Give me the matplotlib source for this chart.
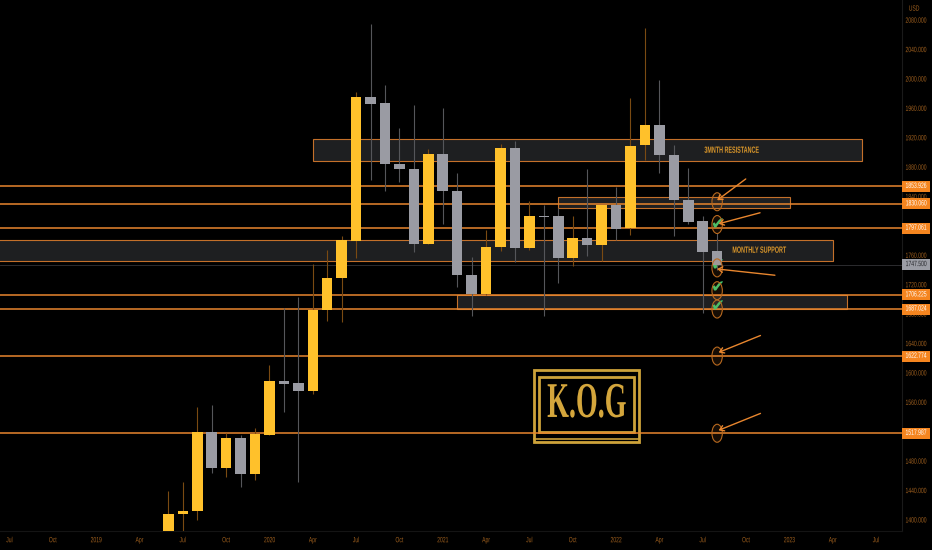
import matplotlib
matplotlib.use('Agg')
import matplotlib.pyplot as plt
from matplotlib.patches import Rectangle, Ellipse
from matplotlib.patheffects import AbstractPathEffect
from matplotlib.transforms import Affine2D

# monthly candles, month 0 = Jul 2018
months = list(range(11, 50))
opens = [1312, 1408, 1412, 1520, 1471, 1512, 1463, 1516, 1589, 1586, 1576, 1686, 1729, 1780, 1975, 1967,
         1885, 1878, 1776, 1898, 1847, 1733, 1707, 1771, 1906, 1770, 1813, 1813, 1757, 1783, 1774, 1829,
         1797, 1910, 1937, 1897, 1836, 1807, 1766]
closes = [1408, 1412, 1520, 1471, 1512, 1463, 1517, 1589, 1585, 1576, 1686, 1729, 1781, 1975, 1966, 1885,
          1878, 1776, 1898, 1847, 1733, 1707, 1772, 1906, 1770, 1813, 1812, 1757, 1783, 1774, 1829, 1796,
          1909, 1937, 1896, 1836, 1806, 1765, 1747.5]
highs = [1439, 1452, 1554, 1556, 1518, 1515, 1525, 1611, 1688, 1703, 1748, 1767, 1786, 1983, 2075, 1992,
         1933, 1965, 1905, 1960, 1872, 1758, 1795, 1912, 1916, 1834, 1829, 1824, 1813, 1877, 1829, 1853,
         1974, 2070, 1998, 1910, 1879, 1813, 1790]
lows = [1280, 1385, 1400, 1464, 1458, 1445, 1454, 1515, 1547, 1452, 1572, 1671, 1670, 1757, 1862, 1848,
        1860, 1765, 1776, 1803, 1717, 1677, 1706, 1766, 1751, 1767, 1678, 1722, 1746, 1759, 1752, 1781,
        1788, 1890, 1872, 1787, 1803, 1681, 1740]

x_tick_months = list(range(0, 61, 3))
x_tick_labels = ['Jul', 'Oct', '2019', 'Apr', 'Jul', 'Oct', '2020', 'Apr', 'Jul', 'Oct', '2021',
                 'Apr', 'Jul', 'Oct', '2022', 'Apr', 'Jul', 'Oct', '2023', 'Apr', 'Jul']
y_ticks = list(range(1400, 2081, 40))

levels = [1853.926, 1830.060, 1797.061, 1706.225, 1687.024, 1622.774, 1517.987]
current_price = 1747.5

# x0, x1, low, high
zones = [(21.02, 59.04, 1888, 1918), (37.98, 54.03, 1824, 1840), (-1, 57.03, 1752, 1781), (31, 58, 1687, 1706)]
zone_labels = [('3MNTH RESISTANCE', 50, 1903), ('MONTHLY SUPPORT', 51.9, 1767)]

circle_prices = [1833, 1802, 1743, 1712, 1687, 1623, 1518]
check_prices = [1802, 1747, 1716, 1690]
arrow_tails = [(50.98, 1864), (51.97, 1818), (53.0, 1733), (52, 1651), (52, 1545)]
arrow_tips = [(49, 1835), (49.1, 1803), (49, 1741.5), (49.1, 1628), (49.1, 1522)]

GOLD = '#FFC12B'
GREY = '#9A9BA3'
ORANGE = '#E8862E'
TICK = '#A0601E'
SANS = 'Liberation Sans'


class Squeeze(AbstractPathEffect):
    # the reference text is much narrower than any installed font
    def __init__(self, sx):
        super().__init__()
        self.sx = sx

    def draw_path(self, renderer, gc, tpath, affine, rgbFace=None):
        box = tpath.get_extents(affine)
        cx = box.x0 + box.width / 2
        squeezed = affine + Affine2D().translate(-cx, 0).scale(self.sx, 1).translate(cx, 0)
        renderer.draw_path(gc, tpath, squeezed, rgbFace)


squeeze = [Squeeze(0.66)]

fig = plt.figure(figsize=(9.32, 5.5), dpi=100, facecolor='black')
ax = fig.add_axes([0, 19 / 550, 902 / 932, 531 / 550], facecolor='black')
ax.set_xlim(-0.658, 61.8)
ax.set_ylim(1385, 2107.5)

# zones, levels
for x0, x1, lo, hi in zones:
    ax.add_patch(Rectangle((x0, lo), x1 - x0, hi - lo, facecolor='#1E1F21', edgecolor='#C4702A', lw=0.8, zorder=1))
for name, x, y in zone_labels:
    ax.text(x, y, name, color='#D9962A', fontsize=6.5, family=SANS, weight='bold', ha='center', va='center',
            zorder=2, path_effects=[Squeeze(0.6)])
for p in levels:
    ax.axhline(p, color=ORANGE, lw=1.1, zorder=2)
ax.axhline(current_price, color='#333336', lw=0.6, zorder=1.5)

# logo
ax.add_patch(Rectangle((36.34, 1506.5), 7.26, 98, fill=False, edgecolor='#CDA23A', lw=2, zorder=1.5))
ax.add_patch(Rectangle((36.67, 1519.7), 6.58, 74.8, fill=False, edgecolor='#CDA23A', lw=2, zorder=1.5))
ax.plot([36.34, 43.6], [1510, 1510], color='#CDA23A', lw=1.2, zorder=1.5)
ax.text(40, 1556.5, 'K.O.G', color='#D4A63C', fontsize=36, family='Liberation Serif', weight='bold',
        ha='center', va='center', zorder=2, path_effects=[Squeeze(0.56)])

# check marks sit behind the candles
for p in check_prices:
    ax.text(49, p, '\u2714', color='#3EC46D', fontsize=12, family='DejaVu Sans', ha='center', va='center', zorder=2.2)

# candles
colors = [GOLD if c >= o else GREY for o, c in zip(opens, closes)]
wick_colors = ['#7A4A12' if c >= o else '#55565A' for o, c in zip(opens, closes)]
ax.vlines(months, lows, highs, colors=wick_colors, lw=0.8, zorder=3)
ax.bar(months, [abs(c - o) for o, c in zip(opens, closes)], bottom=[min(o, c) for o, c in zip(opens, closes)],
       width=0.73, color=colors, zorder=3.5)

# circles and arrows
for p in circle_prices:
    ax.add_patch(Ellipse((49, p), 0.72, 24.5, facecolor='#E8862E18', edgecolor='#B8691F', lw=0.8, zorder=4))
for tail, tip in zip(arrow_tails, arrow_tips):
    ax.annotate('', xy=tip, xytext=tail, zorder=4.5,
                arrowprops=dict(arrowstyle='->,head_length=0.3,head_width=0.2', color=ORANGE, lw=1.0,
                                shrinkA=0, shrinkB=0))

# axes
for s in ax.spines.values():
    s.set_visible(False)
ax.spines['right'].set_visible(True)
ax.spines['right'].set_color('#1A1A1A')
ax.spines['bottom'].set_visible(True)
ax.spines['bottom'].set_color('#141414')
ax.set_xticks(x_tick_months)
ax.set_xticklabels(x_tick_labels, family=SANS, path_effects=squeeze)
ax.yaxis.tick_right()
ax.set_yticks(y_ticks)
ax.set_yticklabels(['%.3f' % v for v in y_ticks], family=SANS, path_effects=squeeze)
ax.tick_params(axis='x', length=0, pad=4.5, labelsize=5.5, labelcolor=TICK)
ax.tick_params(axis='y', length=0, pad=-1.4, labelsize=5.5, labelcolor=TICK)
ax.text(1 + 4 / 902, 2095, 'USD', transform=ax.get_yaxis_transform(), color=TICK, fontsize=5.5, family=SANS,
        va='center', path_effects=squeeze)

# price tags on the axis
tag_tf = ax.get_yaxis_transform()
tag_prices = levels + [current_price]
tag_colors = ['#F5851F'] * len(levels) + ['#9B9DA5']
tag_text = ['white'] * len(levels) + ['#26272B']
for p, bg, fg in zip(tag_prices, tag_colors, tag_text):
    ax.add_patch(Rectangle((1, p - 7.5), 28 / 902, 15, transform=tag_tf, facecolor=bg, edgecolor='none',
                           clip_on=False, zorder=5))
    ax.text(1 + 14 / 902, p, '%.3f' % p, transform=tag_tf, color=fg, fontsize=5.5, family=SANS,
            ha='center', va='center', zorder=6, path_effects=squeeze)

fig.savefig('out.png', dpi=100, facecolor='black')
